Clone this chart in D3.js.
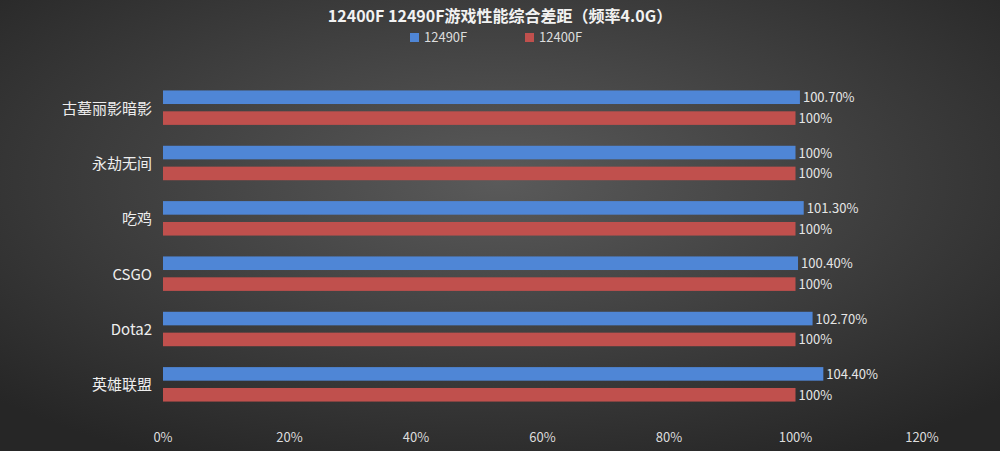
<!DOCTYPE html>
<html><head><meta charset="utf-8">
<script src="https://cdn.jsdelivr.net/npm/d3@7"></script>
<style>body{margin:0;}svg{display:block;font-family:"Noto Sans CJK SC","DejaVu Sans",sans-serif;}</style>
</head><body><svg id="c" width="1000" height="451"></svg>
<script>
const categories=["古墓丽影暗影","永劫无间","吃鸡","CSGO","Dota2","英雄联盟"];
const series=["12490F","12400F"];
const v12490=[100.7,100,101.3,100.4,102.7,104.4];
const v12400=[100,100,100,100,100,100];
const labels12490=["100.70%","100%","101.30%","100.40%","102.70%","104.40%"];
const labels12400=["100%","100%","100%","100%","100%","100%"];
const ticks=[0,20,40,60,80,100,120];
const colors=["#4f86d6","#c0504d"];
const svg=d3.select("#c");
const defs=svg.append("defs");
const g0=defs.append("radialGradient").attr("id","bg").attr("cx","50%").attr("cy","40%").attr("r","70%");
g0.append("stop").attr("offset","0%").attr("stop-color","#5a5a5a");
g0.append("stop").attr("offset","100%").attr("stop-color","#262626");
svg.append("rect").attr("width",1000).attr("height",451).attr("fill","url(#bg)");
const x=d3.scaleLinear().domain([0,120]).range([163,922]);
const y=d3.scaleBand().domain(categories).range([80,412]);
const ys=d3.scaleBand().domain(series).range([0,y.bandwidth()]).paddingInner(0.35).paddingOuter(0.5);
svg.append("text").attr("x",500).attr("y",22).attr("text-anchor","middle").attr("fill","#f2f2f2").attr("font-size",16).attr("font-weight","bold").text("12400F 12490F游戏性能综合差距（频率4.0G）");
const leg=[[410,"12490F"],[525,"12400F"]];
leg.forEach((l,i)=>{svg.append("rect").attr("x",l[0]).attr("y",33).attr("width",9).attr("height",9).attr("fill",colors[i]);
svg.append("text").attr("x",l[0]+14).attr("y",42).attr("fill","#ddd").attr("font-size",13).text(l[1]);});
const data=[v12490,v12400], lab=[labels12490,labels12400];
series.forEach((s,si)=>{
 categories.forEach((c,ci)=>{
  const yy=y(c)+ys(s);
  svg.append("rect").attr("x",x(0)).attr("y",yy).attr("width",x(data[si][ci])-x(0)).attr("height",ys.bandwidth()).attr("fill",colors[si]);
  svg.append("text").attr("x",x(data[si][ci])+3).attr("y",yy+ys.bandwidth()/2+5).attr("fill","#e6e6e6").attr("font-size",13).text(lab[si][ci]);
 });
});
categories.forEach(c=>svg.append("text").attr("x",152).attr("y",y(c)+y.bandwidth()/2+6).attr("text-anchor","end").attr("fill","#eee").attr("font-size",15).text(c));
ticks.forEach(t=>svg.append("text").attr("x",x(t)).attr("y",442).attr("text-anchor","middle").attr("fill","#ddd").attr("font-size",13).text(t+"%"));
</script></body></html>
